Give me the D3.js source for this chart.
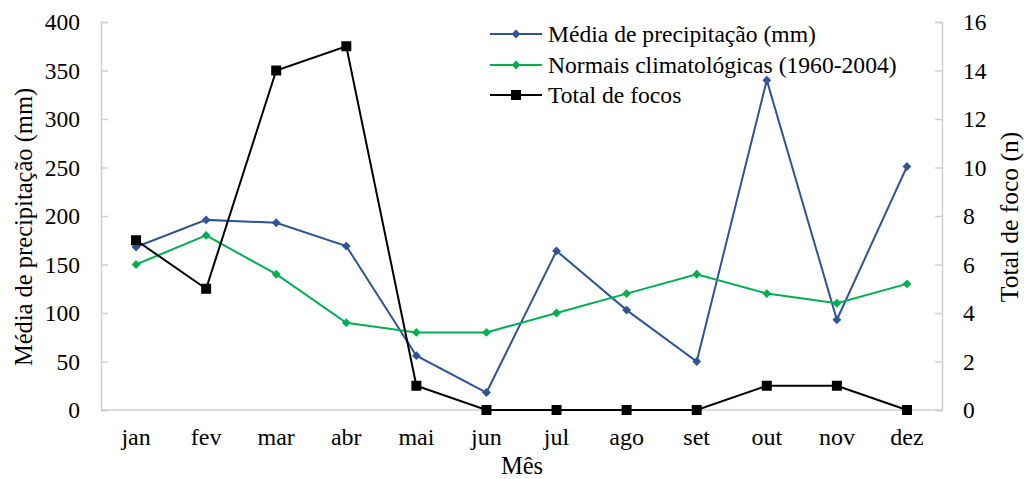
<!DOCTYPE html>
<html>
<head>
<meta charset="utf-8">
<script src="https://cdnjs.cloudflare.com/ajax/libs/d3/7.8.5/d3.min.js"></script>
<style>
  body { margin: 0; background: #fff; }
  svg text { font-family: 'Liberation Serif', 'Times New Roman', serif; fill: #000; }
</style>
</head>
<body>
<div id="chart"></div>
<script>
// Data
var meses = ["jan", "fev", "mar", "abr", "mai", "jun", "jul", "ago", "set", "out", "nov", "dez"];
var mediaPrecip = [168, 196, 193, 169, 56, 18, 164, 103, 50, 340, 93, 251];
var normais = [150, 180, 140, 90, 80, 80, 100, 120, 140, 120, 110, 130];
var focos = [7, 5, 14, 15, 1, 0, 0, 0, 0, 1, 1, 0];
var leftTicks = [0, 50, 100, 150, 200, 250, 300, 350, 400];
var rightTicks = [0, 2, 4, 6, 8, 10, 12, 14, 16];

var w = 1024, h = 479;
var margin = {top: 22, left: 101, bottom: 69, right: 82};

var svg = d3.select("#chart").append("svg")
  .attr("width", w)
  .attr("height", h);

// Scales
var x = d3.scaleBand()
  .domain(meses)
  .range([margin.left, w - margin.right]);
var xpos = d => x(d) + x.bandwidth() / 2;

var yL = d3.scaleLinear().domain([0, 400]).range([h - margin.bottom, margin.top]);
var yR = d3.scaleLinear().domain([0, 16]).range([h - margin.bottom, margin.top]);

var axisColor = "#d0d0d0";

// Left axis (ticks point inward)
var gL = svg.append("g")
  .attr("transform", `translate(${margin.left},0)`)
  .call(d3.axisRight(yL).tickValues(leftTicks).tickSize(7).tickFormat(""));
gL.select(".domain").attr("stroke", axisColor).attr("stroke-width", 1.5);
gL.selectAll(".tick line").attr("stroke", axisColor).attr("stroke-width", 1.5);

svg.selectAll("text.lt")
  .data(leftTicks)
  .enter().append("text")
  .attr("class", "lt")
  .attr("x", margin.left - 21)
  .attr("y", d => yL(d) + 8)
  .attr("text-anchor", "end")
  .attr("font-size", 23.5)
  .text(d => d);

// Right axis
var gR = svg.append("g")
  .attr("transform", `translate(${w - margin.right},0)`)
  .call(d3.axisLeft(yR).tickValues(rightTicks).tickSize(7).tickFormat(""));
gR.select(".domain").attr("stroke", axisColor).attr("stroke-width", 1.5);
gR.selectAll(".tick line").attr("stroke", axisColor).attr("stroke-width", 1.5);

svg.selectAll("text.rt")
  .data(rightTicks)
  .enter().append("text")
  .attr("class", "rt")
  .attr("x", w - margin.right + 21)
  .attr("y", d => yR(d) + 8)
  .attr("text-anchor", "start")
  .attr("font-size", 23.5)
  .text(d => d);

// X axis line
svg.append("line")
  .attr("x1", margin.left)
  .attr("x2", w - margin.right)
  .attr("y1", yL(0))
  .attr("y2", yL(0))
  .attr("stroke", axisColor)
  .attr("stroke-width", 1.5);

svg.selectAll("text.xt")
  .data(meses)
  .enter().append("text")
  .attr("class", "xt")
  .attr("x", d => xpos(d))
  .attr("y", h - margin.bottom + 35)
  .attr("text-anchor", "middle")
  .attr("font-size", 24)
  .text(d => d);

// Axis titles
svg.append("text")
  .attr("x", 522)
  .attr("y", 474)
  .attr("text-anchor", "middle")
  .attr("font-size", 24.5)
  .text("Mês");

svg.append("text")
  .attr("transform", "translate(32,227) rotate(-90)")
  .attr("text-anchor", "middle")
  .attr("font-size", 24.5)
  .text("Média de precipitação (mm)");

svg.append("text")
  .attr("transform", "translate(1018,217) rotate(-90)")
  .attr("text-anchor", "middle")
  .attr("font-size", 25.5)
  .text("Total de foco (n)");

// Series
var series = [
  {name: "Média de precipitação (mm)", values: mediaPrecip, y: yL, color: "#2f5597", marker: "diamond"},
  {name: "Normais climatológicas (1960-2004)", values: normais, y: yL, color: "#00b050", marker: "diamond"},
  {name: "Total de focos", values: focos, y: yR, color: "#000000", marker: "square"}
];

var diamond = d3.symbol().type(d3.symbolDiamond2).size(50);

function drawMarker(g, s, cx, cy) {
  if (s.marker === "square") {
    g.append("rect")
      .attr("x", cx - 5).attr("y", cy - 5)
      .attr("width", 10).attr("height", 10)
      .attr("fill", s.color);
  } else {
    g.append("path")
      .attr("d", diamond())
      .attr("transform", `translate(${cx},${cy})`)
      .attr("fill", s.color);
  }
}

series.forEach(function(s) {
  var line = d3.line()
    .x((d, i) => xpos(meses[i]))
    .y(d => s.y(d));
  var g = svg.append("g");
  g.append("path")
    .attr("d", line(s.values))
    .attr("fill", "none")
    .attr("stroke", s.color)
    .attr("stroke-width", 2);
  s.values.forEach((v, i) => drawMarker(g, s, xpos(meses[i]), s.y(v)));
});

// Legend
var legendRows = [34, 65, 95];
var legend = svg.append("g");
series.forEach(function(s, i) {
  var ly = legendRows[i];
  var g = legend.append("g");
  g.append("line")
    .attr("x1", 490).attr("x2", 542)
    .attr("y1", ly).attr("y2", ly)
    .attr("stroke", s.color)
    .attr("stroke-width", 2);
  drawMarker(g, s, 516, ly);
  g.append("text")
    .attr("x", 548)
    .attr("y", ly + 8)
    .attr("font-size", 23.6)
    .text(s.name);
});
</script>
</body>
</html>
